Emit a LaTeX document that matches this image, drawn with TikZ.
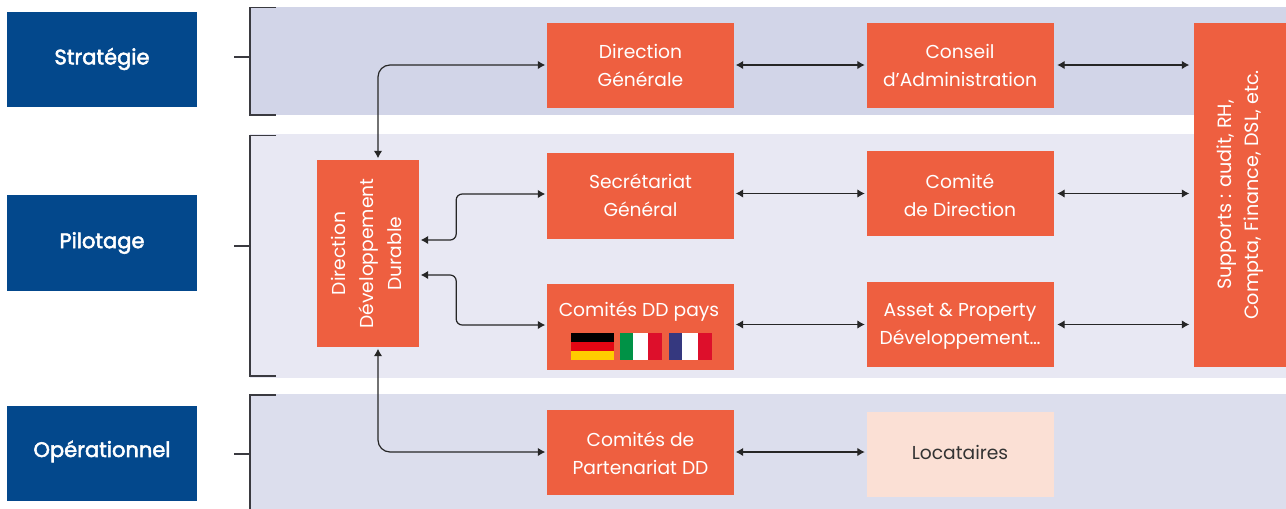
\documentclass[tikz,border=0pt]{standalone}
\usepackage{fontspec}
\usepackage{graphicx}
\setmainfont{Poppins}
\newfontfamily\medfont[FakeBold=2.5]{Poppins}
\usetikzlibrary{arrows.meta,calc}
\definecolor{navy}{HTML}{03488C}
\definecolor{orangebox}{HTML}{EE5F40}
\definecolor{bandA}{HTML}{D2D5E8}
\definecolor{bandB}{HTML}{E8E8F3}
\definecolor{bandC}{HTML}{DCDEED}
\definecolor{peach}{HTML}{FBE0D5}
\definecolor{brk}{HTML}{3A3A40}
\definecolor{deR}{HTML}{E30613}
\definecolor{deY}{HTML}{FFCC00}
\definecolor{itG}{HTML}{009246}
\definecolor{itR}{HTML}{DD0F2B}
\definecolor{frB}{HTML}{35387F}
\tikzset{
  levelbox/.style={fill=navy,minimum width=190pt,minimum height=95pt,inner sep=0pt},
  leveltext/.style={text=white,font=\fontsize{21}{24}\medfont,inner sep=0pt},
  obox/.style={fill=orangebox,inner sep=0pt,minimum width=187pt,minimum height=85pt},
  otext/.style={text=white,font=\fontsize{18.7}{28}\selectfont,inner sep=0pt,align=center},
  lbox/.style={obox,fill=peach},
  link/.style={draw=black!85,line width=1.2pt,{Latex[length=7.5pt,width=8.5pt]}-{Latex[length=7.5pt,width=8.5pt]},shorten >=1.5pt,shorten <=1.5pt},
  curve/.style={link,rounded corners=6pt},
  suplink/.style={link,shorten >=4.5pt,shorten <=3.5pt},
  bracket/.style={draw=brk,line width=1.2pt}
}
\begin{document}
\begin{tikzpicture}[x=1pt,y=-1pt]
\useasboundingbox (0,0) rectangle (1286,509);
\fill[bandA] (250,7) rectangle (1286,115);
\fill[bandB] (250,134) rectangle (1286,378);
\fill[bandC] (250,394) rectangle (1286,509);

\draw[bracket] (276,7.5) -- (250,7.5) -- (250,115) -- (276,115);
\draw[bracket] (234,57) -- (250,57);
\draw[bracket] (276,135.5) -- (250,135.5) -- (250,376) -- (276,376);
\draw[bracket] (234,246) -- (250,246);
\draw[bracket] (276,395) -- (250,395) -- (250,509);
\draw[bracket] (234,454) -- (250,454);

\node[levelbox,label={[leveltext]center:{Stratégie}}] (strat) at (102,59) {};
\node[levelbox,minimum height=96pt,label={[leveltext]center:{Pilotage}}] (pilot) at (102,243) {};
\node[levelbox,label={[leveltext,yshift=2pt]center:{Opérationnel}}] (oper) at (102,453.5) {};

\node[obox,label={[otext]center:{Direction\\Générale}}] (dg) at (640.5,65) {};
\node[obox,label={[otext]center:{Conseil\\d’Administration}}] (ca) at (960,65) {};
\node[obox,minimum width=92pt,minimum height=344pt,label={[otext,font=\fontsize{19.2}{27}\selectfont]center:{\rotatebox{90}{\begin{tabular}{@{}c@{}}Supports : audit, RH,\\Compta, Finance, DSL, etc.\end{tabular}}}}] (sup) at (1240,195) {};
\node[obox,minimum width=102pt,minimum height=187pt,label={[otext]center:{\rotatebox{90}{\begin{tabular}{@{}c@{}}Direction\\Développement\\Durable\end{tabular}}}}] (ddd) at (368,253.5) {};
\node[obox,minimum height=86pt,label={[otext,yshift=1pt]center:{Secrétariat\\Général}}] (sg) at (640.5,196) {};
\node[obox,label={[otext,yshift=-1.5pt]center:{Comité\\de Direction}}] (cd) at (960,193.5) {};
\node[obox,minimum height=86pt] (pays) at (640.5,327) {};
\node[otext] (paystxt) at (639,312) {Comités DD pays};
\node[obox,label={[otext,yshift=-2pt]center:{Asset \& Property\\Développement…}}] (apd) at (960,324.5) {};
\node[obox,label={[otext,yshift=-1pt]center:{Comités de\\Partenariat DD}}] (cp) at (640.5,452) {};
\node[lbox,label={[otext,text=black!80,yshift=2pt]center:{Locataires}}] (loc) at (960,454.5) {};

% flags
\fill[black] (571,333) rectangle (614,342);
\fill[deR] (571,342) rectangle (614,351);
\fill[deY] (571,351) rectangle (614,360);
\fill[itG] (620,333) rectangle (633,360);
\fill[white] (633,333) rectangle (648,360);
\fill[itR] (648,333) rectangle (662,360);
\fill[frB] (669,333) rectangle (682,360);
\fill[white] (682,333) rectangle (698,360);
\fill[itR] (698,333) rectangle (712,360);

% connectors
\draw[link] (dg) -- (ca);
\draw[suplink] (ca) -- (ca -| sup.west);
\draw[curve,rounded corners=12pt] ([xshift=10pt]ddd.north) |- (dg.west);
\draw[link] (sg.east |- cd) -- (cd.west);
\draw[suplink] (cd) -- (cd -| sup.west);
\draw[curve] ([yshift=13.5pt]ddd.east) -- ++(37,0) |- ([yshift=2pt]sg.west);
\draw[curve] ([yshift=-21.5pt]ddd.east) -- ++(37,0) |- ([yshift=2pt]pays.west);
\draw[link] (pays.east |- apd) -- (apd.west);
\draw[suplink] (apd) -- (apd -| sup.west);
\draw[curve,rounded corners=12pt] ([xshift=10pt]ddd.south) |- (cp.west);
\draw[link] (cp.east) -- (cp.east -| loc.west);
\end{tikzpicture}
\end{document}
